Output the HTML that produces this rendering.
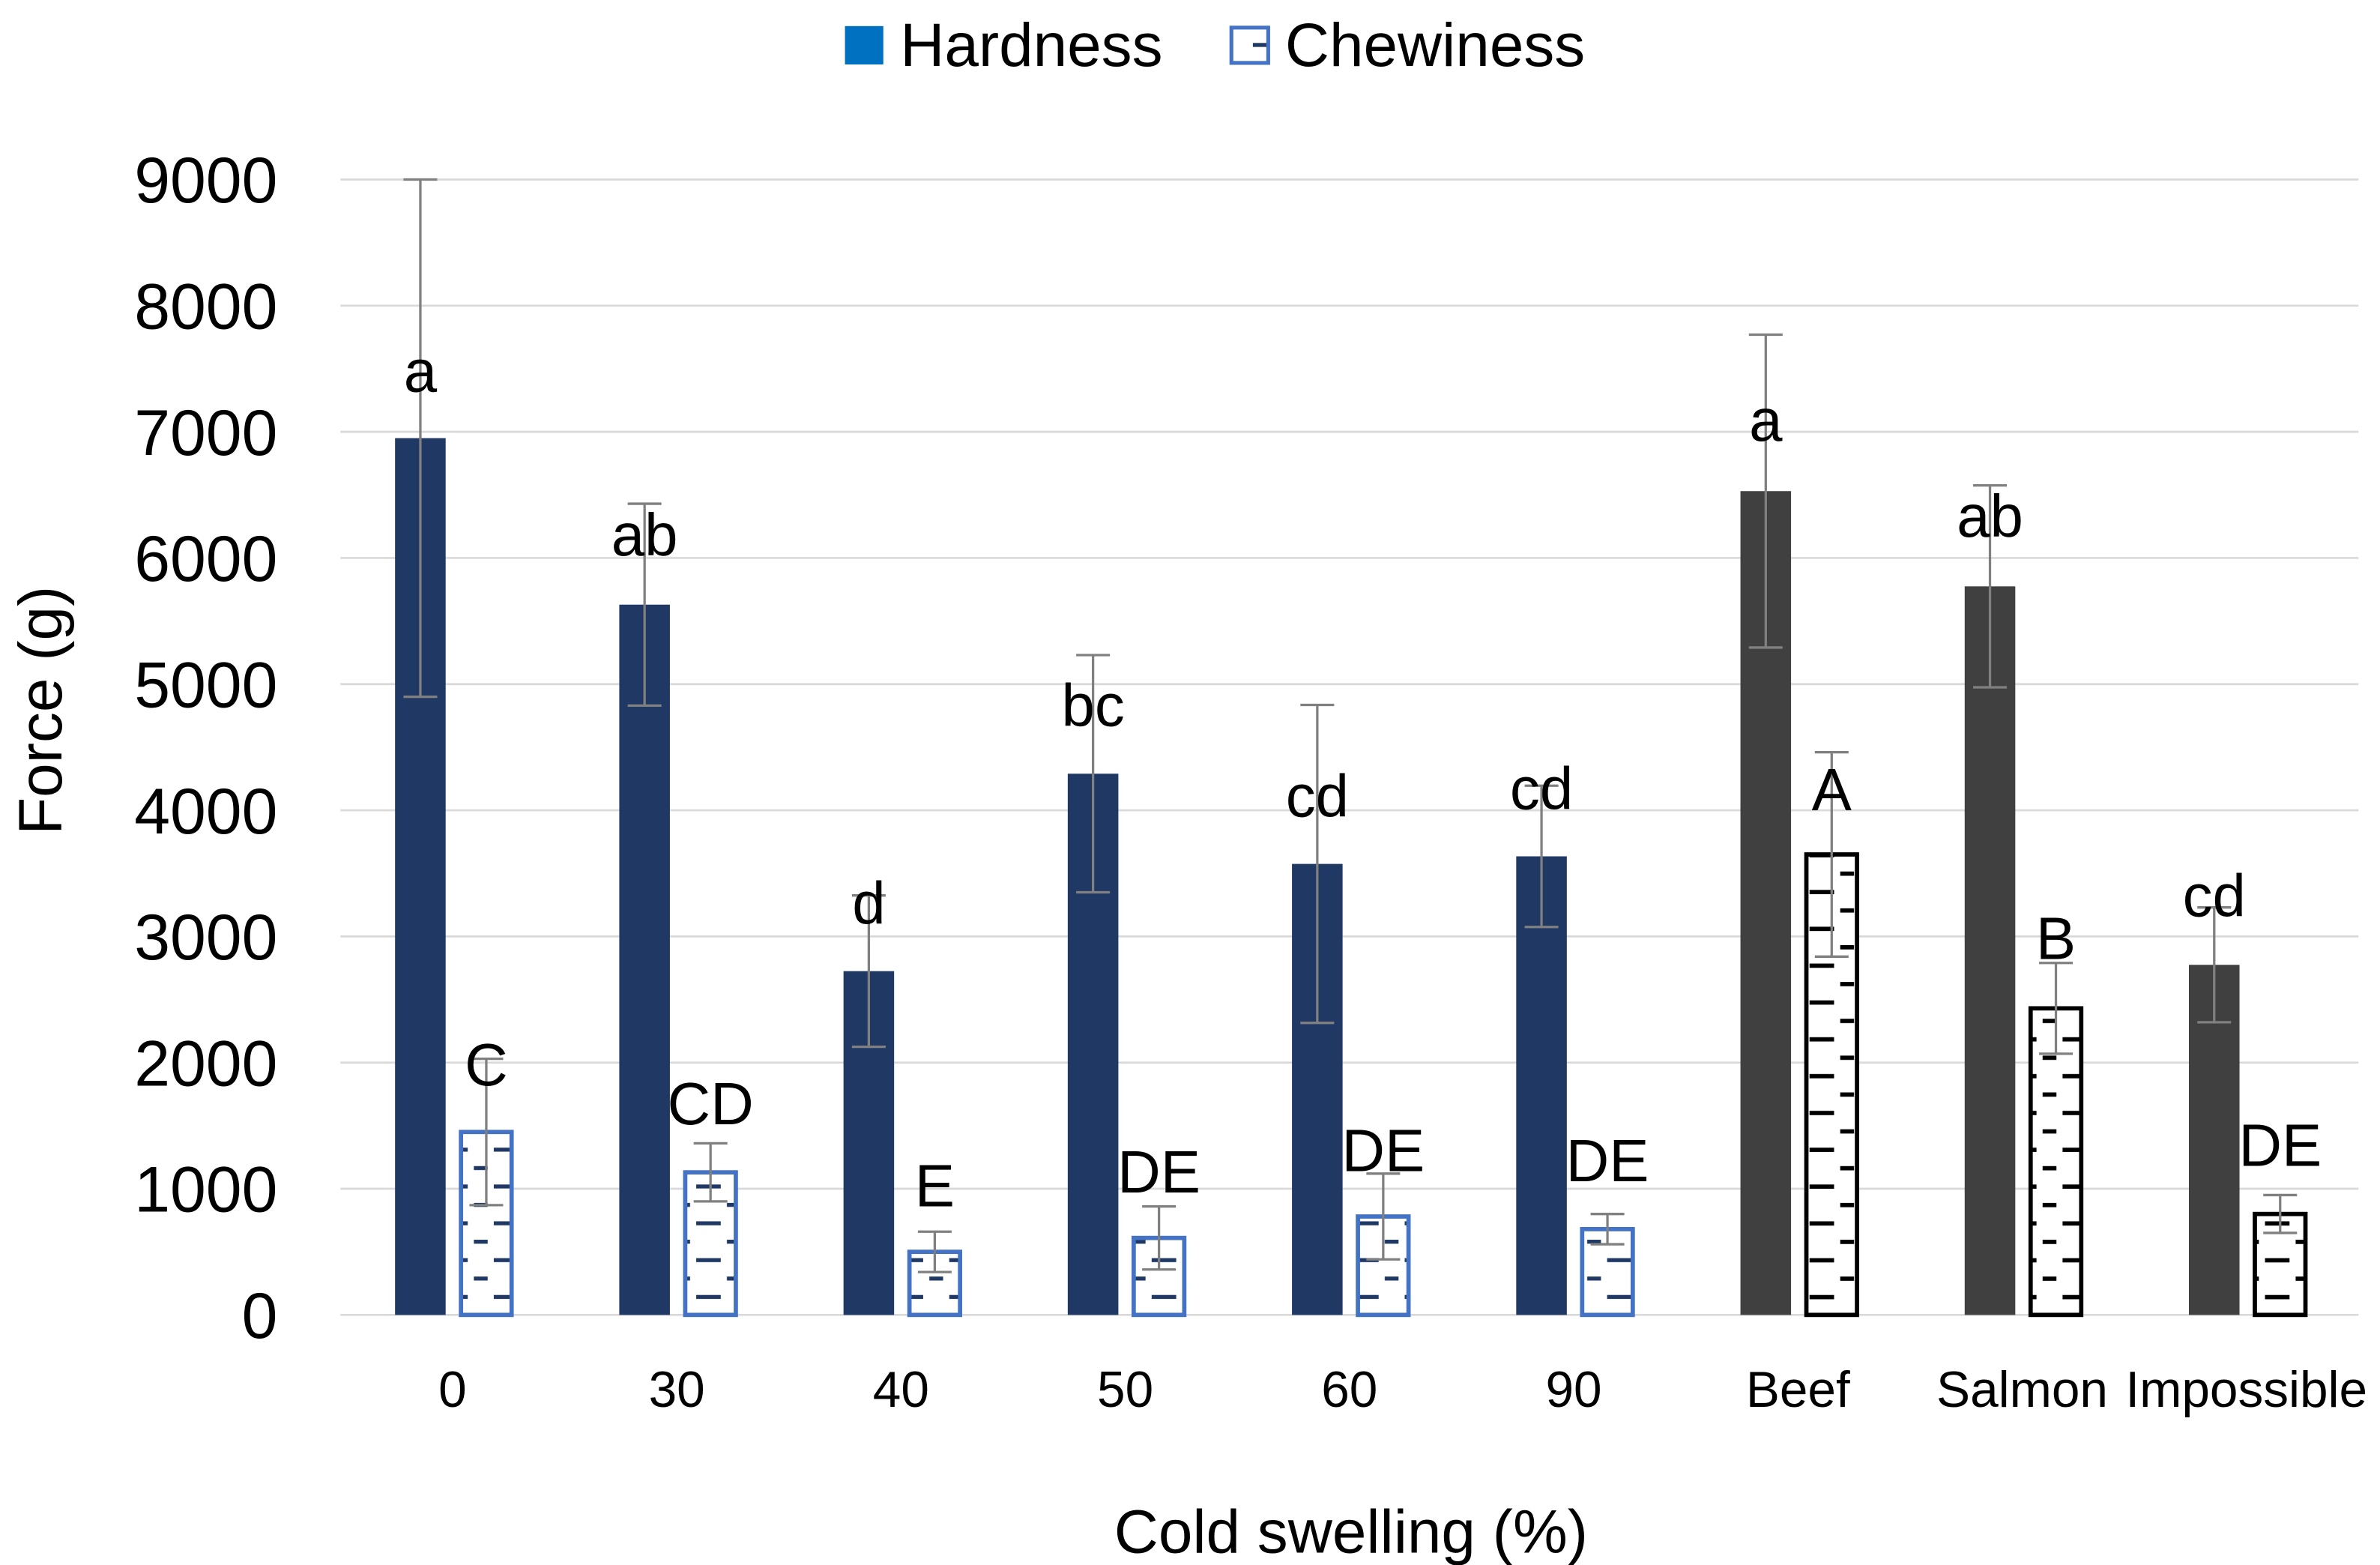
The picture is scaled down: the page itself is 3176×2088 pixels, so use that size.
<!DOCTYPE html>
<html><head><meta charset="utf-8"><style>
html,body{margin:0;padding:0;background:#fff;}
svg{display:block;font-family:"Liberation Sans","DejaVu Sans",sans-serif;}
</style></head><body>
<svg id="chart" width="3176" height="2088" viewBox="0 0 1552 1020" preserveAspectRatio="none" xmlns="http://www.w3.org/2000/svg">
<defs>
<pattern id="patBlue" patternUnits="userSpaceOnUse" width="33" height="24">
<rect width="33" height="24" fill="#fff"/>
<rect x="0" y="4" width="8" height="2.6" fill="#203864"/><rect x="25" y="4" width="8" height="2.6" fill="#203864"/>
<rect x="12" y="16" width="9" height="2.6" fill="#203864"/>
</pattern>
<pattern id="patBlack" patternUnits="userSpaceOnUse" width="33" height="24">
<rect width="33" height="24" fill="#fff"/>
<rect x="0" y="4" width="8" height="2.8" fill="#000"/><rect x="25" y="4" width="8" height="2.8" fill="#000"/>
<rect x="12" y="16" width="9" height="2.8" fill="#000"/>
</pattern>
</defs>
<g id="grid"></g>
<g id="bars"></g>
<g id="labels"></g>
<text transform="translate(40,463) rotate(-90)" text-anchor="middle" font-size="40" fill="#000">Force (g)</text>
<text x="881" y="1012" text-anchor="middle" font-size="40" fill="#000">Cold swelling (%)</text>
<g>
<rect x="551" y="17" width="25" height="25" fill="#0070C0"/>
<text x="587" y="43" font-size="40">Hardness</text>
<rect x="803" y="18" width="24" height="23" fill="url(#patBlue)" stroke="#4472C4" stroke-width="2.5"/>
<text x="838" y="43" font-size="40">Chewiness</text>
</g>
</svg>
<script>
const categories = ["0","30","40","50","60","90","Beef","Salmon","Impossible"];
const hardness = [6950,5630,2725,4290,3575,3635,6530,5775,2775];
const hardnessErr = [2050,800,600,940,1260,560,1240,800,455];
const hardnessLetters = ["a","ab","d","bc","cd","cd","a","ab","cd"];
const hardnessLetterY = [7320,6020,3100,4670,3950,4010,6930,6170,3160];
const chewiness = [1450,1130,500,610,780,680,3650,2430,800];
const chewinessErr = [580,230,160,250,340,120,810,360,150];
const chewinessLetters = ["C","CD","E","DE","DE","DE","A","B","DE"];
const chewinessLetterY = [1820,1510,860,970,1140,1060,4000,2820,1180];
const yTicks = [0,1000,2000,3000,4000,5000,6000,7000,8000,9000];

const NS="http://www.w3.org/2000/svg";
const plotL=222, plotR=1538, y0=857, y9=117;
const yScale=v=>y0-(v/9000)*(y0-y9);
const band=(plotR-plotL)/categories.length;
const xCenter=i=>plotL+band*(i+0.5);
const barW=33;
function mk(tag,attrs,parent){const e=document.createElementNS(NS,tag);for(const k in attrs)e.setAttribute(k,attrs[k]);parent.appendChild(e);return e;}
const grid=document.getElementById('grid'),bars=document.getElementById('bars'),labels=document.getElementById('labels');
yTicks.forEach(t=>{
  const l=mk('line',{x1:plotL,x2:plotR,y1:yScale(t),y2:yScale(t),stroke:'#d9d9d9','stroke-width':1.3},grid);
  
  
  const tx=mk('text',{x:181,y:yScale(t)+15,'text-anchor':'end','font-size':42,fill:'#000'},grid);
  tx.textContent=t;
  
  
});
function errBar(cx,v,e,name){
  const g=mk('g',{stroke:'#808080','stroke-width':1.6},bars);
  
  
  mk('line',{x1:cx,x2:cx,y1:yScale(v+e),y2:yScale(v-e)},g);
  mk('line',{x1:cx-11,x2:cx+11,y1:yScale(v+e),y2:yScale(v+e)},g);
  mk('line',{x1:cx-11,x2:cx+11,y1:yScale(v-e),y2:yScale(v-e)},g);
}
categories.forEach((c,i)=>{
  const cx=xCenter(i), ref=i>=6;
  const hx=cx-21-barW/2, cxx=cx+22-barW/2;
  const hb=mk('rect',{x:hx,y:yScale(hardness[i]),width:barW,height:y0-yScale(hardness[i]),fill:ref?'#404040':'#203864'},bars);
  
  
  const cb=mk('rect',{x:cxx,y:yScale(chewiness[i]),width:barW,height:y0-yScale(chewiness[i]),fill:ref?'url(#patBlack)':'url(#patBlue)',stroke:ref?'#000':'#4472C4','stroke-width':2.8},bars);
  
  
  errBar(cx-21,hardness[i],hardnessErr[i],'error-hardness-'+c);
  errBar(cx+22,chewiness[i],chewinessErr[i],'error-chewiness-'+c);
  const hl=mk('text',{x:cx-21,y:yScale(hardnessLetterY[i]),'text-anchor':'middle','font-size':39,fill:'#000'},labels);
  hl.textContent=hardnessLetters[i];
  
  
  const cl=mk('text',{x:cx+22,y:yScale(chewinessLetterY[i]),'text-anchor':'middle','font-size':39,fill:'#000'},labels);
  cl.textContent=chewinessLetters[i];
  
  
  const xl=mk('text',{x:cx,y:917,'text-anchor':'middle','font-size':33,fill:'#000'},labels);
  xl.textContent=c;
  
  
});
</script>
</body></html>
